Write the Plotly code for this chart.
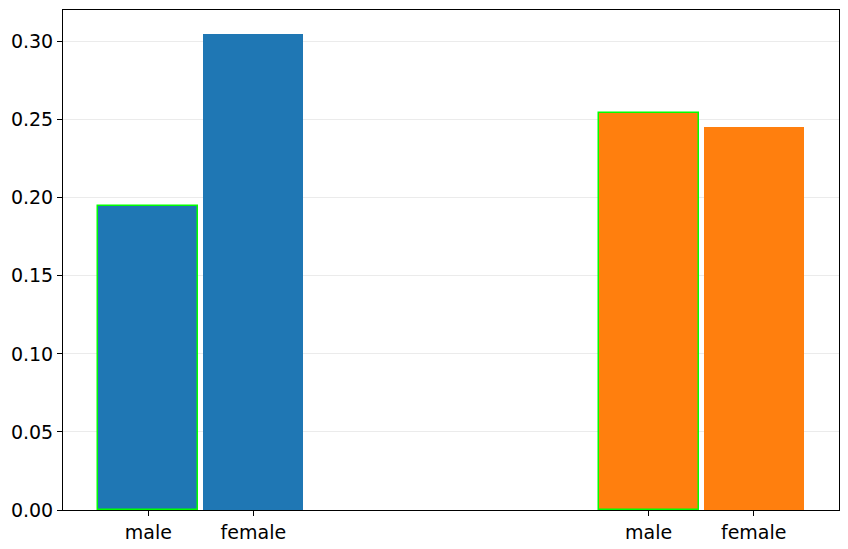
import plotly.graph_objects as go

# Data
groups = ["A", "B"]
categories = ["male", "female"]
values_group1 = [0.195, 0.305]
values_group2 = [0.2545, 0.2455]
group_colors = ["#1f77b4", "#ff7f0e"]
group_offsets = [0.0, 5.0]
bar_step = 1.05
bar_width = 1.0

fig = go.Figure()
all_vals = [values_group1, values_group2]
tickvals, ticktext = [], []
for gi, vals in enumerate(all_vals):
    xs = [group_offsets[gi] + i * bar_step for i in range(len(categories))]
    tickvals += xs
    ticktext += categories
    fig.add_trace(go.Bar(
        x=xs, y=vals, width=bar_width,
        marker=dict(
            color=group_colors[gi],
            line=dict(color=["#00ff00" if c == "male" else group_colors[gi] for c in categories],
                      width=[1.5 if c == "male" else 0 for c in categories]),
        ),
        showlegend=False,
    ))

xmin = min(tickvals) - bar_width / 2
xmax = max(tickvals) + bar_width / 2
pad = 0.05 * (xmax - xmin)
ymax = max(max(v) for v in all_vals) * 1.05

# page body has an 8px margin, so plot margins are shifted to compensate
fig.update_layout(
    width=848, height=549,
    margin=dict(l=55, r=17, t=2, b=47),
    paper_bgcolor="white", plot_bgcolor="white",
    font=dict(family="DejaVu Sans", size=19, color="black"),
    bargap=0,
)
fig.update_xaxes(
    range=[xmin - pad, xmax + pad],
    tickmode="array", tickvals=tickvals, ticktext=ticktext,
    tickfont=dict(size=19),
    showgrid=False, zeroline=False,
    showline=True, linecolor="black", linewidth=1, mirror=True,
    ticks="outside", ticklen=5, tickcolor="black",
)
fig.update_yaxes(
    range=[0, ymax],
    tickmode="array", tickvals=[0, 0.05, 0.10, 0.15, 0.20, 0.25, 0.30],
    tickformat=".2f",
    tickfont=dict(size=19),
    showgrid=True, gridcolor="#ebebeb", gridwidth=1, zeroline=False,
    showline=True, linecolor="black", linewidth=1, mirror=True,
    ticks="outside", ticklen=5, tickcolor="black",
)

fig.write_html("out.html")
